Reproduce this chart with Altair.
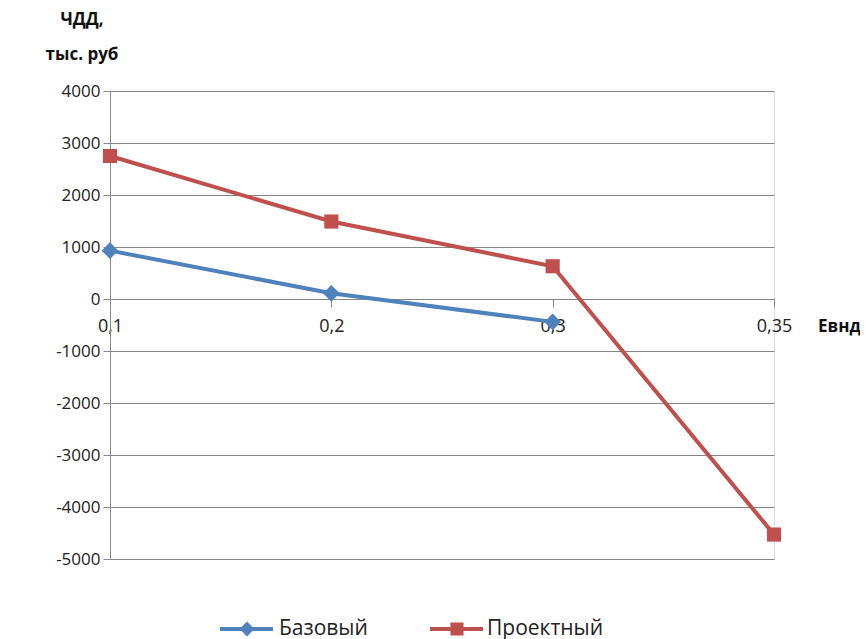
import altair as alt
import pandas as pd

x_labels = ["0,1", "0,2", "0,3", "0,35"]
series_names = ["Базовый", "Проектный"]
base_values = [930, 110, -440]
proj_values = [2750, 1490, 630, -4530]
y_ticks = [4000, 3000, 2000, 1000, 0, -1000, -2000, -3000, -4000, -5000]
colors = ["#4F81BD", "#C0504D"]
shapes = ["diamond", "square"]

rows = []
for x, v in zip(x_labels, base_values):
    rows.append({"x": x, "y": v, "s": series_names[0]})
for x, v in zip(x_labels, proj_values):
    rows.append({"x": x, "y": v, "s": series_names[1]})
df = pd.DataFrame(rows)

FONT = "Open Sans"
W, H = 664, 468

xenc = alt.X("x:N", sort=x_labels,
             scale=alt.Scale(type="point", padding=0, domain=x_labels),
             axis=alt.Axis(title=None, offset=-260, grid=False, labelAngle=0,
                           domainColor="#868686", tickColor="#868686", tickSize=8,
                           labelFont=FONT, labelFontSize=18, labelColor="#222",
                           labelPadding=10))
yenc = alt.Y("y:Q", scale=alt.Scale(domain=[-5000, 4000], nice=False),
             axis=alt.Axis(title=None, values=y_ticks, grid=True, gridColor="#868686",
                           domainColor="#868686", tickColor="#868686", tickSize=7,
                           labelExpr="toString(datum.value)",
                           labelFont=FONT, labelFontSize=17, labelColor="#222",
                           labelPadding=3))
color = alt.Color("s:N", scale=alt.Scale(domain=series_names, range=colors), legend=None)

lines = alt.Chart(df).mark_line(strokeWidth=4).encode(x=xenc, y=yenc, color=color, detail="s:N")
points = alt.Chart(df).mark_point(filled=True, opacity=1).encode(
    x=alt.X("x:N", sort=x_labels), y="y:Q", color=color,
    shape=alt.Shape("s:N", scale=alt.Scale(domain=series_names, range=shapes), legend=None),
    size=alt.Size("s:N", scale=alt.Scale(domain=series_names, range=[280, 200]), legend=None))

dummy = pd.DataFrame({"a": [0]})
def txt(text, x, y, bold=False, size=17, align="center"):
    return alt.Chart(dummy).mark_text(font=FONT, fontSize=size, fontWeight="bold" if bold else "normal",
                                      align=align, baseline="middle", color="#111").encode(
        x=alt.value(x), y=alt.value(y), text=alt.value(text))

ytitle1 = txt("ЧДД,", -28, -71, bold=True)
ytitle2 = txt("тыс. руб", -28, -36, bold=True)
xtitle = txt("Евнд", 708, 236, bold=True, align="left")

leg_layers = []
leg_y = 538
for name, col, shp, x0, tx in [(series_names[0], colors[0], "diamond", 110, 169),
                                (series_names[1], colors[1], "square", 320, 377)]:
    leg_layers.append(alt.Chart(dummy).mark_rule(color=col, strokeWidth=4).encode(
        x=alt.value(x0), x2=alt.value(x0 + 53), y=alt.value(leg_y)))
    leg_layers.append(alt.Chart(dummy).mark_point(shape=shp, filled=True, opacity=1, color=col,
                                                  size=220 if shp == "diamond" else 170).encode(
        x=alt.value(x0 + 27), y=alt.value(leg_y)))
    leg_layers.append(alt.Chart(dummy).mark_text(font=FONT, fontSize=21, align="left", baseline="middle",
                                                 color="#222").encode(
        x=alt.value(tx), y=alt.value(leg_y), text=alt.value(name)))

chart = alt.layer(lines, points, ytitle1, ytitle2, xtitle, *leg_layers).properties(
    width=W, height=H,
    autosize=alt.AutoSizeParams(type="none"),
    padding={"left": 102, "top": 83, "right": 86, "bottom": 100},
).configure_view(stroke=None).configure(background="white")

chart.save("out.html", embed_options={"renderer": "svg", "actions": False})
